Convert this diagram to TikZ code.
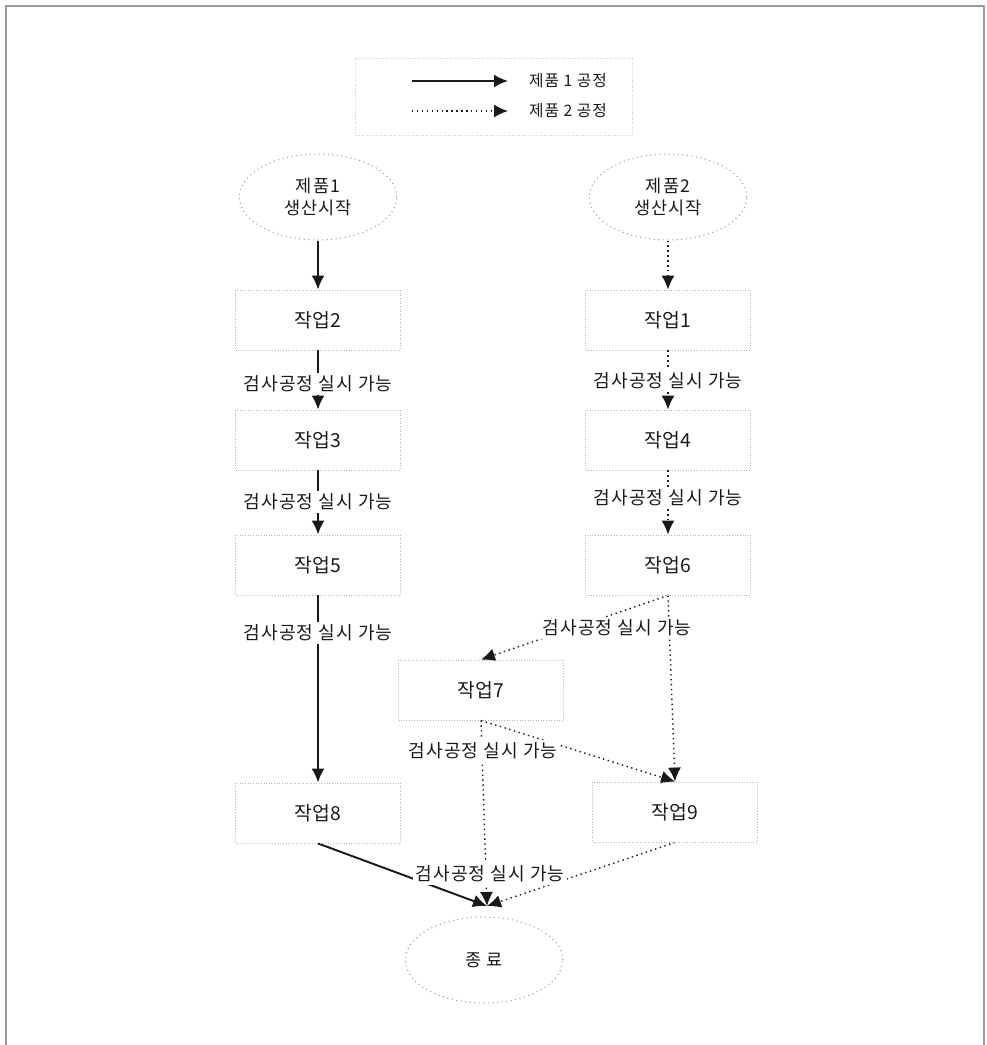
\documentclass[tikz,border=0pt]{standalone}
\usepackage{fontspec}
\usepackage{tikz}
\usetikzlibrary{shapes.geometric,arrows.meta,backgrounds}
\newfontfamily\kr{Noto Sans CJK KR}
\newfontfamily\krwide[LetterSpace=6]{Noto Sans CJK KR}
\definecolor{scanInk}{HTML}{1A1A1A}
\definecolor{scanGrey}{HTML}{9A9A9A}

\begin{document}
\begin{tikzpicture}[
  x=0.02cm, y=-0.02cm,
  job/.style={rectangle, draw=scanGrey!70, line width=0.5pt, densely dotted, minimum width=3.3cm, minimum height=1.2cm,
    font=\kr\fontsize{11}{13}\selectfont, text=scanInk},
  begin/.style={ellipse, draw=scanGrey, dotted, line width=0.6pt, minimum width=3.15cm, minimum height=1.72cm,
    align=center, inner sep=0pt, font=\krwide\fontsize{10}{13}\selectfont, text=scanInk},
  check/.style={fill=white, inner sep=1.5pt, font=\krwide\fontsize{10.3}{12}\selectfont, text=scanInk},
  legtxt/.style={font=\krwide\fontsize{9}{11}\selectfont, text=scanInk},
  prodA/.style={scanInk, line width=1.1pt},
  prodB/.style={scanInk, dotted, line width=0.8pt},
  tip/.style={-{Latex[length=2.8mm,width=2.6mm]}}
]
  \useasboundingbox (0,0) rectangle (987,1045);
  \draw[scanGrey, line width=0.8pt] (6,1045) -- (6,6) -- (984,6) -- (984,1045);

  % legend
  \draw[scanGrey!50, densely dotted] (355,58) rectangle (632,135);
  \node[legtxt] (leg1) at (568,81) {제품 1 공정};
  \node[legtxt] (leg2) at (568,111) {제품 2 공정};
  \coordinate (leg1s) at (412,81);  \coordinate (leg1e) at (508,81);
  \coordinate (leg2s) at (412,111); \coordinate (leg2e) at (508,111);
  \draw[prodA, tip] (leg1s) -- (leg1e);
  \draw[prodB, tip] (leg2s) -- (leg2e);

  % product 1
  \node[begin] (start1) at (318,197) {제품1\\생산시작};
  \node[job] (job2) at (318,320) {작업2};
  \node[check] (chk2) at (318,384) {검사공정 실시 가능};
  \node[job] (job3) at (318,440) {작업3};
  \node[check] (chk3) at (318,502) {검사공정 실시 가능};
  \node[job] (job5) at (318,565) {작업5};
  \node[check] (chk5) at (318,633) {검사공정 실시 가능};
  \node[job] (job8) at (318,813) {작업8};

  % product 2
  \node[begin] (start2) at (668,197) {제품2\\생산시작};
  \node[job] (job1) at (668,320) {작업1};
  \node[check] (chk1) at (668,381) {검사공정 실시 가능};
  \node[job] (job4) at (668,440) {작업4};
  \node[check] (chk4) at (668,498) {검사공정 실시 가능};
  \node[job] (job6) at (668,565) {작업6};
  \node[check] (chk6) at (617,628) {검사공정 실시 가능};
  \node[job] (job7) at (481,690) {작업7};
  \node[check] (chk7) at (483,751) {검사공정 실시 가능};
  \node[job] (job9) at (675,812) {작업9};

  \node[check] (chk8) at (490,874) {검사공정 실시 가능};
  \node[begin] (finish) at (484,960) {종 료};
  \coordinate (join) at (487,906);

  \draw[prodA, tip] (start1) -- (job2);
  \foreach \a/\c/\b in {job2/chk2/job3, job3/chk3/job5, job5/chk5/job8}{
    \draw[prodA] (\a) -- (\c);
    \draw[prodA, tip] (\c) -- (\b);
  }
  \draw[prodB, tip] (start2) -- (job1);
  \foreach \a/\c/\b in {job1/chk1/job4, job4/chk4/job6}{
    \draw[prodB] (\a) -- (\c);
    \draw[prodB, tip] (\c) -- (\b);
  }

  \begin{scope}[on background layer]
    \draw[prodB, tip] (job6.south) -- (job7.north);
    \draw[prodB, tip] (job6.south) -- (job9.north);
    \draw[prodB, tip] (job7.south) -- (job9.north);
    \draw[prodB, tip] (job7.south) -- (join);
    \draw[prodB, tip] (job9.south) -- (join);
    \draw[prodA, tip] (job8.south) -- (join);
  \end{scope}
\end{tikzpicture}
\end{document}
